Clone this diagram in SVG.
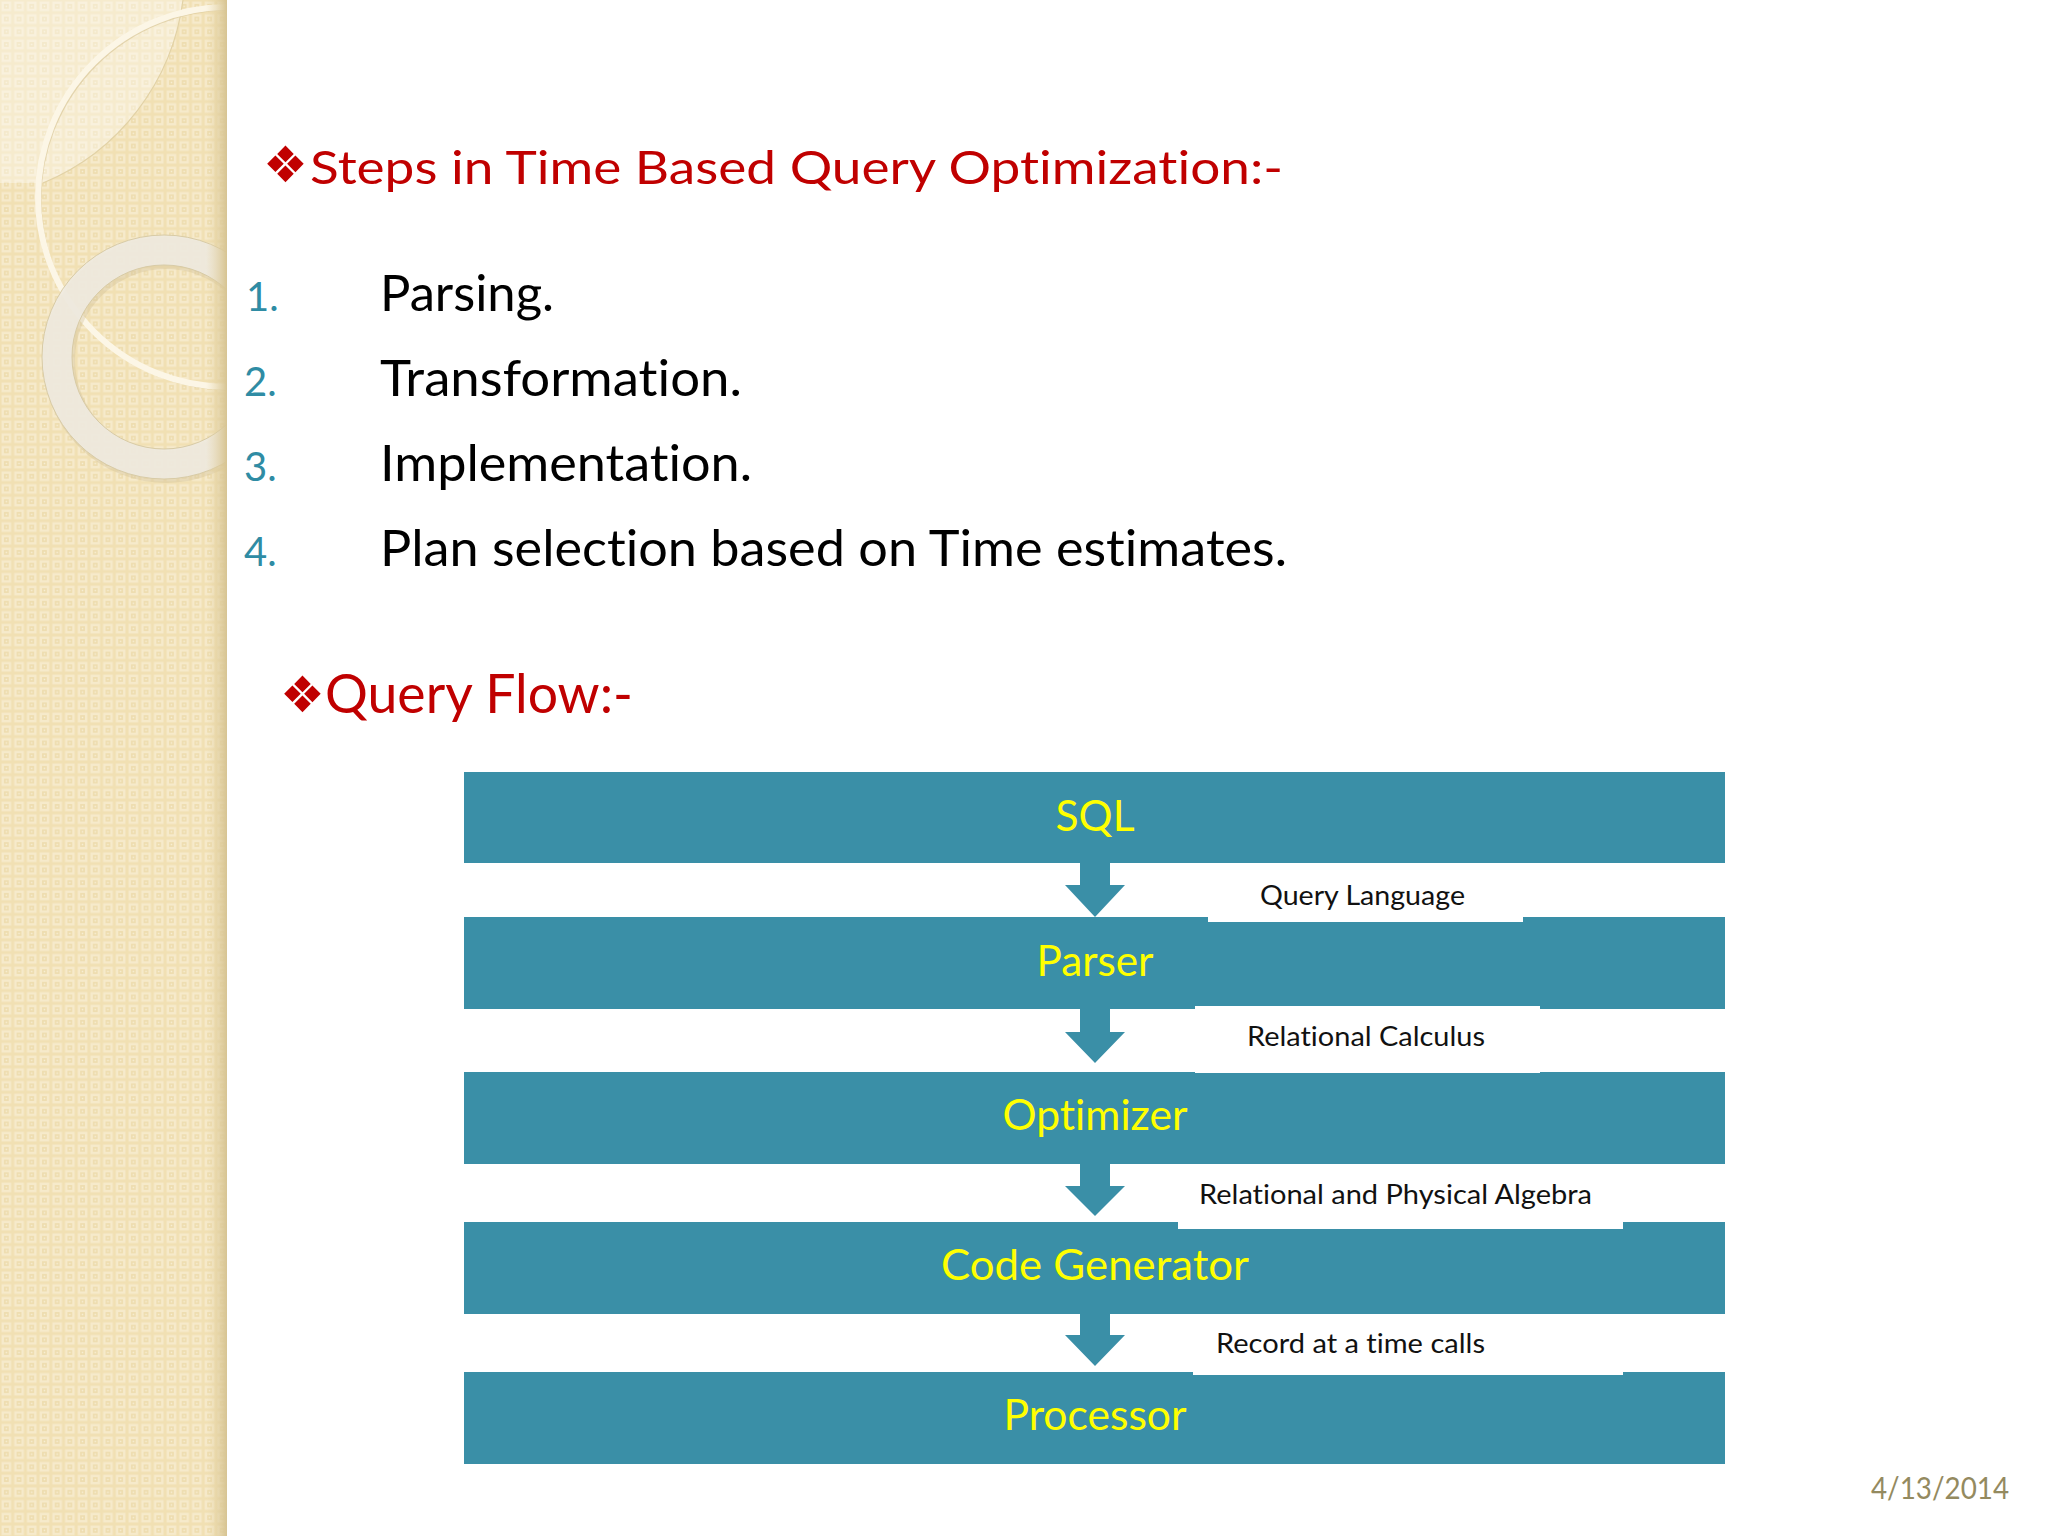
<svg xmlns="http://www.w3.org/2000/svg" width="2048" height="1536" viewBox="0 0 2048 1536">
<defs>
<style>
text{font-variant-ligatures:none;}
.bar{fill:#3A8FA7;}
.btxt{font-family:Lato,"Open Sans","Liberation Sans",sans-serif;font-size:42px;fill:#FFFF00;text-anchor:middle;}
.lbox{fill:#FFFFFF;}
.ltxt{font-family:Lato,"Open Sans","Liberation Sans",sans-serif;font-size:26px;fill:#111111;}
.arrow{fill:#3A8FA7;}
.head{font-family:Lato,"Open Sans","Liberation Sans",sans-serif;fill:#C00000;}
.bul{font-family:"DejaVu Sans",sans-serif;fill:#C00000;}
.num{font-family:Lato,"Open Sans","Liberation Sans",sans-serif;font-size:40px;fill:#2F8CA4;}
.item{font-family:Lato,"Open Sans","Liberation Sans",sans-serif;font-size:51px;fill:#000000;}
</style>
<pattern id="weave" x="0" y="0" width="12.7" height="12.7" patternUnits="userSpaceOnUse">
<rect width="12.7" height="12.7" fill="#F1E0B3"/>
<rect x="1.5" y="1.5" width="9.7" height="9.7" fill="#F6EACB"/>
<rect x="4" y="4" width="4.7" height="4.7" fill="#EEDCAD"/>
<rect x="5.6" y="5.6" width="1.5" height="1.5" fill="#F8EFD6"/>
</pattern>
<linearGradient id="edge" x1="0" y1="0" x2="1" y2="0">
<stop offset="0" stop-color="#E8D7AA" stop-opacity="0"/>
<stop offset="1" stop-color="#D6C391" stop-opacity="1"/>
</linearGradient>
<clipPath id="panelClip"><rect x="0" y="0" width="226" height="1536"/></clipPath>
</defs>

<rect x="0" y="0" width="2048" height="1536" fill="#FFFFFF"/>

<g id="side-panel">
<rect x="0" y="0" width="226" height="1536" fill="url(#weave)"/>
<g clip-path="url(#panelClip)">
<path d="M0,0 H183 A230,230 0 0 1 43,183 H0 Z" fill="#FFFFFF" fill-opacity="0.35"/>
<path d="M183,0 A230,230 0 0 1 43,183" fill="none" stroke="#E2D2A6" stroke-width="1.2"/>
<circle cx="230" cy="199" r="190" fill="none" stroke="#D5C393" stroke-width="3" stroke-opacity="0.6"/>
<circle cx="228" cy="197" r="190" fill="none" stroke="#FCF6E6" stroke-width="6"/>
<circle cx="166" cy="360" r="107" fill="none" stroke="#CDBE96" stroke-width="32" stroke-opacity="0.35"/>
<circle cx="164" cy="357" r="107" fill="none" stroke="#EEEAE0" stroke-width="30" stroke-opacity="0.9"/>
<circle cx="164" cy="357" r="122" fill="none" stroke="#D8CBA6" stroke-width="1"/>
<circle cx="164" cy="357" r="92" fill="none" stroke="#D8CBA6" stroke-width="1"/>
</g>
<rect x="206" y="0" width="21" height="1536" fill="url(#edge)"/>
</g>

<g id="title">
<text class="bul" x="263" y="182" font-size="50">❖</text>
<text class="head" x="310" y="184" font-size="47" textLength="973" lengthAdjust="spacingAndGlyphs">Steps in Time Based Query Optimization:-</text>
</g>

<g id="steps-list">
<text class="num" x="246" y="311">1.</text>
<text class="item" x="380" y="311" textLength="174" lengthAdjust="spacingAndGlyphs">Parsing.</text>
<text class="num" x="244" y="396">2.</text>
<text class="item" x="380" y="396" textLength="362" lengthAdjust="spacingAndGlyphs">Transformation.</text>
<text class="num" x="244" y="481">3.</text>
<text class="item" x="380" y="481" textLength="372" lengthAdjust="spacingAndGlyphs">Implementation.</text>
<text class="num" x="244" y="566">4.</text>
<text class="item" x="380" y="566" textLength="907" lengthAdjust="spacingAndGlyphs">Plan selection based on Time estimates.</text>
</g>

<g id="query-flow-heading">
<text class="bul" x="280" y="712" font-size="50">❖</text>
<text class="head" x="325" y="713" font-size="54" textLength="308" lengthAdjust="spacingAndGlyphs">Query Flow:-</text>
</g>

<g id="connectors">
<path class="arrow" d="M1080,863 H1110 V885 H1125 L1095,917 L1065,885 H1080 Z"/>
<path class="arrow" d="M1080,1009 H1110 V1032 H1125 L1095,1063 L1065,1032 H1080 Z"/>
<path class="arrow" d="M1080,1164 H1110 V1186 H1125 L1095,1216 L1065,1186 H1080 Z"/>
<path class="arrow" d="M1080,1314 H1110 V1335 H1125 L1095,1366 L1065,1335 H1080 Z"/>
</g>

<g id="node-sql">
<rect class="bar" x="464" y="772" width="1261" height="91"/>
<text class="btxt" x="1095" y="831" textLength="79" lengthAdjust="spacingAndGlyphs">SQL</text>
</g>
<g id="node-parser">
<rect class="bar" x="464" y="917" width="1261" height="92"/>
<text class="btxt" x="1095" y="976" textLength="117" lengthAdjust="spacingAndGlyphs">Parser</text>
</g>
<g id="node-optimizer">
<rect class="bar" x="464" y="1072" width="1261" height="92"/>
<text class="btxt" x="1095" y="1130" textLength="185" lengthAdjust="spacingAndGlyphs">Optimizer</text>
</g>
<g id="node-codegen">
<rect class="bar" x="464" y="1222" width="1261" height="92"/>
<text class="btxt" x="1095" y="1280" textLength="308" lengthAdjust="spacingAndGlyphs">Code Generator</text>
</g>
<g id="node-processor">
<rect class="bar" x="464" y="1372" width="1261" height="92"/>
<text class="btxt" x="1095" y="1430" textLength="183" lengthAdjust="spacingAndGlyphs">Processor</text>
</g>

<g id="edge-labels">
<g id="label-query-language">
<rect class="lbox" x="1208" y="863" width="315" height="59"/>
<text class="ltxt" x="1260" y="905" textLength="205" lengthAdjust="spacingAndGlyphs">Query Language</text>
</g>
<g id="label-relational-calculus">
<rect class="lbox" x="1195" y="1006" width="345" height="67"/>
<text class="ltxt" x="1247" y="1046" textLength="238" lengthAdjust="spacingAndGlyphs">Relational Calculus</text>
</g>
<g id="label-algebra">
<rect class="lbox" x="1178" y="1164" width="445" height="65"/>
<text class="ltxt" x="1199" y="1204" textLength="393" lengthAdjust="spacingAndGlyphs">Relational and Physical Algebra</text>
</g>
<g id="label-record">
<rect class="lbox" x="1193" y="1314" width="430" height="61"/>
<text class="ltxt" x="1216" y="1353" textLength="269" lengthAdjust="spacingAndGlyphs">Record at a time calls</text>
</g>
</g>

<g id="footer">
<text x="1871" y="1499" font-family="Lato,'Open Sans','Liberation Sans',sans-serif" font-size="30" fill="#948A5F" textLength="138" lengthAdjust="spacingAndGlyphs">4/13/2014</text>
</g>
</svg>
